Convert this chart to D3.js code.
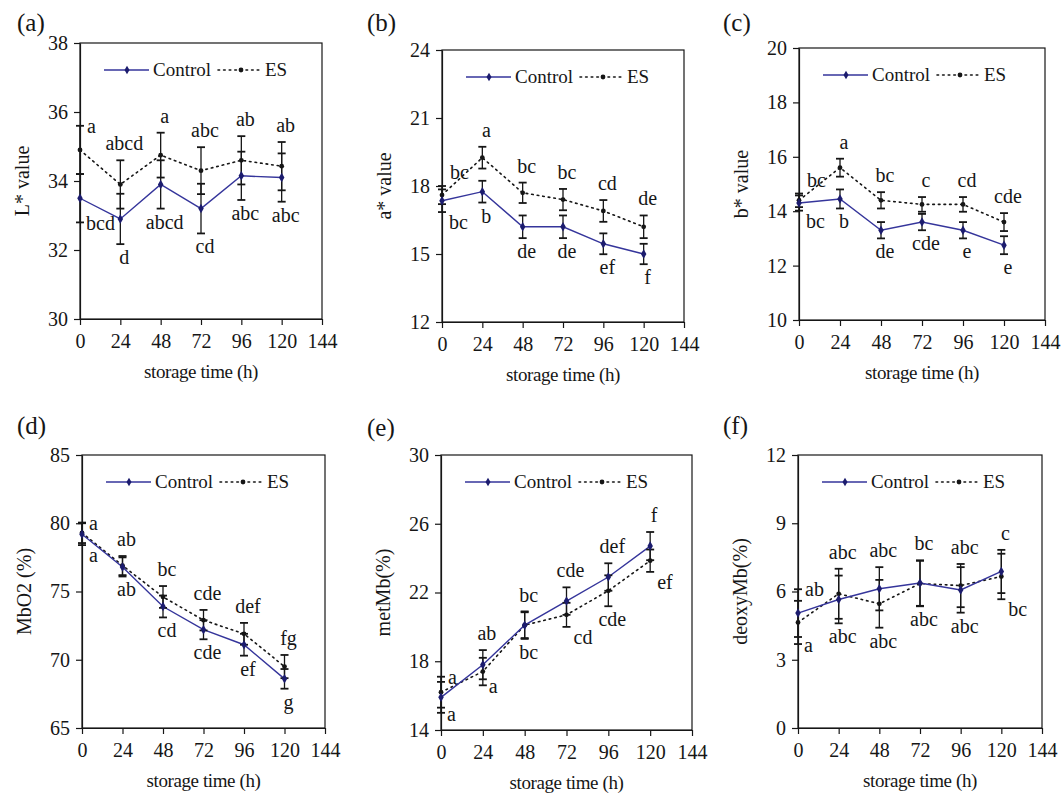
<!DOCTYPE html>
<html>
<head>
<meta charset="utf-8">
<script src="https://d3js.org/d3.v7.min.js"></script>
<style>
  body { margin: 0; background: #fff; }
  svg { display: block; }
  svg text { font-family: 'Liberation Serif', 'DejaVu Serif', 'Times New Roman', serif; }
</style>
</head>
<body>
<svg id="main-svg" width="1062" height="794"></svg>
<script>
// storage times (h) and the shared x ticks
const hours = [0, 24, 48, 72, 96, 120];
const xTicks = [0, 24, 48, 72, 96, 120, 144];

const panelTags = ["(a)", "(b)", "(c)", "(d)", "(e)", "(f)"];
const yTitles = ["L* value", "a* value", "b* value", "MbO2 (%)", "metMb(%)", "deoxyMb(%)"];
const yDomains = [[30, 38], [12, 24], [10, 20], [65, 85], [14, 30], [0, 12]];
const yTicks = [
    [30, 32, 34, 36, 38],
    [12, 15, 18, 21, 24],
    [10, 12, 14, 16, 18, 20],
    [65, 70, 75, 80, 85],
    [14, 18, 22, 26, 30],
    [0, 3, 6, 9, 12]
];

// (a) L* value
const lCtrl = [33.5, 32.9, 33.9, 33.2, 34.15, 34.1];
const lCtrlSd = [0.7, 0.73, 0.7, 0.72, 0.7, 0.7];
const lEs = [34.9, 33.9, 34.75, 34.3, 34.6, 34.43];
const lEsSd = [0.7, 0.7, 0.65, 0.68, 0.7, 0.7];
const lCtrlLetters = ["bcd", "d", "abcd", "cd", "abc", "abc"];
const lEsLetters = ["a", "abcd", "a", "abc", "ab", "ab"];

// (b) a* value
const aCtrl = [17.35, 17.75, 16.2, 16.2, 15.45, 15.0];
const aCtrlSd = [0.5, 0.48, 0.5, 0.5, 0.46, 0.45];
const aEs = [17.6, 19.25, 17.7, 17.4, 16.9, 16.2];
const aEsSd = [0.4, 0.48, 0.45, 0.47, 0.48, 0.5];
const aCtrlLetters = ["bc", "b", "de", "de", "ef", "f"];
const aEsLetters = ["bc", "a", "bc", "bc", "cd", "de"];

// (c) b* value
const bCtrl = [14.3, 14.45, 13.3, 13.6, 13.3, 12.75];
const bCtrlSd = [0.28, 0.35, 0.3, 0.3, 0.3, 0.33];
const bEs = [14.4, 15.6, 14.4, 14.25, 14.25, 13.6];
const bEsSd = [0.25, 0.33, 0.3, 0.27, 0.27, 0.33];
const bCtrlLetters = ["bc", "b", "de", "cde", "e", "e"];
const bEsLetters = ["bc", "a", "bc", "c", "cd", "cde"];

// (d) MbO2 (%)
const oxyCtrl = [79.2, 76.8, 73.9, 72.2, 71.1, 68.6];
const oxyCtrlSd = [0.8, 0.7, 0.8, 0.7, 0.8, 0.72];
const oxyEs = [79.3, 76.9, 74.6, 72.9, 71.9, 69.5];
const oxyEsSd = [0.75, 0.7, 0.8, 0.75, 0.8, 0.85];
const oxyCtrlLetters = ["a", "ab", "cd", "cde", "ef", "g"];
const oxyEsLetters = ["a", "ab", "bc", "cde", "def", "fg"];

// (e) metMb (%)
const metCtrl = [15.9, 17.8, 20.1, 21.5, 22.9, 24.7];
const metCtrlSd = [0.9, 0.85, 0.75, 0.8, 0.8, 0.82];
const metEs = [16.2, 17.4, 20.1, 20.7, 22.1, 23.85];
const metEsSd = [0.9, 0.8, 0.8, 0.7, 0.9, 0.65];
const metCtrlLetters = ["a", "ab", "bc", "cde", "def", "f"];
const metEsLetters = ["a", "a", "bc", "cd", "cde", "ef"];

// (f) deoxyMb (%)
const deoCtrl = [5.05, 5.65, 6.12, 6.37, 6.07, 6.88];
const deoCtrlSd = [1.05, 1.05, 0.95, 1.0, 1.0, 0.95];
const deoEs = [4.64, 5.9, 5.46, 6.35, 6.26, 6.66];
const deoEsSd = [0.95, 1.1, 1.05, 1.0, 0.95, 1.0];
const deoCtrlLetters = ["ab", "abc", "abc", "bc", "abc", "c"];
const deoEsLetters = ["a", "abc", "abc", "abc", "abc", "bc"];

// where each letter sits relative to its error bar
const ctrlSides = [
    ["atBot", "dn", "dn", "dn", "dn", "dn"],
    ["dnR", "dn", "dn", "dn", "dn", "dn"],
    ["dnR", "dn", "dn", "dn", "dn", "dn"],
    ["dnR", "dn", "dn", "dn", "dn", "dn"],
    ["atBot", "up", "up", "up", "up", "up"],
    ["atTop", "dn", "up", "up", "dn", "up"]
];
const esSides = [
    ["atTop", "up", "up", "up", "up", "up"],
    ["upR", "up", "up", "up", "up", "up"],
    ["upR", "up", "up", "up", "up", "up"],
    ["atTop", "up", "up", "up", "up", "up"],
    ["atTop", "atBot", "dn", "dnR", "dn", "dnR"],
    ["atBot", "up", "dn", "dn", "up", "dnR"]
];

// plot boxes (layout only)
const frames = [
    { x: 80, y: 43, w: 242, h: 276, tagX: 17, tagY: 31 },
    { x: 442, y: 50, w: 242, h: 272, tagX: 367, tagY: 31 },
    { x: 799, y: 48, w: 246, h: 272, tagX: 723, tagY: 31 },
    { x: 82, y: 455, w: 243, h: 273, tagX: 17, tagY: 434 },
    { x: 441, y: 455, w: 251, h: 275, tagX: 367, tagY: 436 },
    { x: 798, y: 455, w: 244, h: 273, tagX: 723, tagY: 434 }
];

const panels = [
    { ctrl: lCtrl, ctrlSd: lCtrlSd, es: lEs, esSd: lEsSd, ctrlLet: lCtrlLetters, esLet: lEsLetters },
    { ctrl: aCtrl, ctrlSd: aCtrlSd, es: aEs, esSd: aEsSd, ctrlLet: aCtrlLetters, esLet: aEsLetters },
    { ctrl: bCtrl, ctrlSd: bCtrlSd, es: bEs, esSd: bEsSd, ctrlLet: bCtrlLetters, esLet: bEsLetters },
    { ctrl: oxyCtrl, ctrlSd: oxyCtrlSd, es: oxyEs, esSd: oxyEsSd, ctrlLet: oxyCtrlLetters, esLet: oxyEsLetters },
    { ctrl: metCtrl, ctrlSd: metCtrlSd, es: metEs, esSd: metEsSd, ctrlLet: metCtrlLetters, esLet: metEsLetters },
    { ctrl: deoCtrl, ctrlSd: deoCtrlSd, es: deoEs, esSd: deoEsSd, ctrlLet: deoCtrlLetters, esLet: deoEsLetters }
];

const serif = "'Liberation Serif', 'DejaVu Serif', serif";
const ink = "#161616";
const navy = "#35359b";

const svg = d3.select("#main-svg");

// letter position from the error bar ends
function letterPos(code, cx, top, bot) {
    switch (code) {
        case "up": return { x: cx + 4, y: top - 10, anchor: "middle" };
        case "dn": return { x: cx + 4, y: bot + 20, anchor: "middle" };
        case "upR": return { x: cx + 8, y: top - 7, anchor: "start" };
        case "dnR": return { x: cx + 7, y: bot + 17, anchor: "start" };
        case "atTop": return { x: cx + 7, y: top + 7, anchor: "start" };
        default: return { x: cx + 6, y: bot + 8, anchor: "start" };
    }
}

panels.forEach((p, i) => {
    const f = frames[i];
    const g = svg.append("g").attr("transform", `translate(${f.x},${f.y})`);

    const x = d3.scaleLinear().domain([0, 144]).range([0, f.w]);
    const y = d3.scaleLinear().domain(yDomains[i]).range([f.h, 0]);

    // panel tag
    svg.append("text")
        .attr("x", f.tagX)
        .attr("y", f.tagY)
        .style("font-family", serif)
        .attr("font-size", "25px")
        .attr("fill", ink)
        .text(panelTags[i]);

    // box
    g.append("rect")
        .attr("width", f.w)
        .attr("height", f.h)
        .attr("fill", "none")
        .attr("stroke", ink)
        .attr("stroke-width", 1.2);

    // axes
    const yAxis = g.append("g")
        .call(d3.axisLeft(y).tickValues(yTicks[i]).tickSize(6).tickSizeOuter(0).tickPadding(6).tickFormat(d3.format("d")));
    const xAxis = g.append("g")
        .attr("transform", `translate(0,${f.h})`)
        .call(d3.axisBottom(x).tickValues(xTicks).tickSize(6).tickSizeOuter(0).tickPadding(9).tickFormat(d3.format("d")));
    [yAxis, xAxis].forEach(ax => {
        ax.attr("font-family", null);
        ax.selectAll("path, line").attr("stroke", ink).attr("stroke-width", 1.2);
        ax.selectAll("text")
            .style("font-family", serif)
            .attr("font-size", "20px")
            .attr("fill", ink);
    });

    // axis titles
    g.append("text")
        .attr("x", f.w / 2)
        .attr("y", f.h + 59)
        .attr("text-anchor", "middle")
        .style("font-family", serif)
        .attr("font-size", "19px")
        .attr("letter-spacing", "-0.4px")
        .attr("fill", ink)
        .text("storage time (h)");

    g.append("text")
        .attr("transform", `translate(${-58},${f.h / 2}) rotate(-90)`)
        .attr("text-anchor", "middle")
        .attr("dy", "0.35em")
        .style("font-family", serif)
        .attr("font-size", "20px")
        .attr("fill", ink)
        .text(yTitles[i]);

    const series = [
        { vals: p.es, sd: p.esSd, letters: p.esLet, sides: esSides[i], kind: "es" },
        { vals: p.ctrl, sd: p.ctrlSd, letters: p.ctrlLet, sides: ctrlSides[i], kind: "ctrl" }
    ];

    const line = d3.line().x((d, k) => x(hours[k])).y(d => y(d));

    // lines
    g.append("path")
        .datum(p.es)
        .attr("d", line)
        .attr("fill", "none")
        .attr("stroke", ink)
        .attr("stroke-width", 1.6)
        .attr("stroke-dasharray", "1.6,4")
        .attr("stroke-linecap", "round");

    g.append("path")
        .datum(p.ctrl)
        .attr("d", line)
        .attr("fill", "none")
        .attr("stroke", navy)
        .attr("stroke-width", 1.4);

    series.forEach(s => {
        const pts = s.vals.map((v, k) => ({ t: hours[k], v: v, sd: s.sd[k], lab: s.letters[k], side: s.sides[k] }));

        // error bars
        const eb = g.append("g").selectAll("g")
            .data(pts)
            .enter().append("g")
            .attr("stroke", ink);
        eb.append("line")
            .attr("x1", d => x(d.t)).attr("x2", d => x(d.t))
            .attr("y1", d => y(d.v + d.sd)).attr("y2", d => y(d.v - d.sd))
            .attr("stroke-width", 1.3);
        eb.append("line")
            .attr("x1", d => x(d.t) - 4).attr("x2", d => x(d.t) + 4)
            .attr("y1", d => y(d.v + d.sd)).attr("y2", d => y(d.v + d.sd))
            .attr("stroke-width", 1.8);
        eb.append("line")
            .attr("x1", d => x(d.t) - 4).attr("x2", d => x(d.t) + 4)
            .attr("y1", d => y(d.v - d.sd)).attr("y2", d => y(d.v - d.sd))
            .attr("stroke-width", 1.8);

        // markers
        if (s.kind === "ctrl") {
            g.append("g").selectAll("path")
                .data(pts)
                .enter().append("path")
                .attr("d", d3.symbol(d3.symbolDiamond, 26))
                .attr("transform", d => `translate(${x(d.t)},${y(d.v)})`)
                .attr("fill", "#1c1c6e");
        } else {
            g.append("g").selectAll("circle")
                .data(pts)
                .enter().append("circle")
                .attr("cx", d => x(d.t))
                .attr("cy", d => y(d.v))
                .attr("r", 2.4)
                .attr("fill", ink);
        }

        // significance letters
        g.append("g").selectAll("text")
            .data(pts)
            .enter().append("text")
            .each(function (d) {
                const pos = letterPos(d.side, x(d.t), y(d.v + d.sd), y(d.v - d.sd));
                d3.select(this)
                    .attr("x", pos.x)
                    .attr("y", pos.y)
                    .attr("text-anchor", pos.anchor);
            })
            .style("font-family", serif)
            .attr("font-size", "20px")
            .attr("fill", ink)
            .text(d => d.lab);
    });

    // legend
    const lg = g.append("g").attr("transform", "translate(24,27)");
    lg.append("line")
        .attr("x1", 0).attr("x2", 45).attr("y1", 0).attr("y2", 0)
        .attr("stroke", navy).attr("stroke-width", 1.4);
    lg.append("path")
        .attr("d", d3.symbol(d3.symbolDiamond, 22))
        .attr("transform", "translate(23,0)")
        .attr("fill", "#1c1c6e");
    lg.append("text")
        .attr("x", 49).attr("y", 6)
        .style("font-family", serif)
        .attr("font-size", "19px")
        .attr("fill", ink)
        .text("Control");
    lg.append("line")
        .attr("x1", 114).attr("x2", 158).attr("y1", 0).attr("y2", 0)
        .attr("stroke", ink).attr("stroke-width", 1.6)
        .attr("stroke-dasharray", "1.6,4").attr("stroke-linecap", "round");
    lg.append("circle")
        .attr("cx", 137).attr("cy", 0).attr("r", 2.4)
        .attr("fill", ink);
    lg.append("text")
        .attr("x", 161).attr("y", 6)
        .style("font-family", serif)
        .attr("font-size", "19px")
        .attr("fill", ink)
        .text("ES");
});
</script>
</body>
</html>
